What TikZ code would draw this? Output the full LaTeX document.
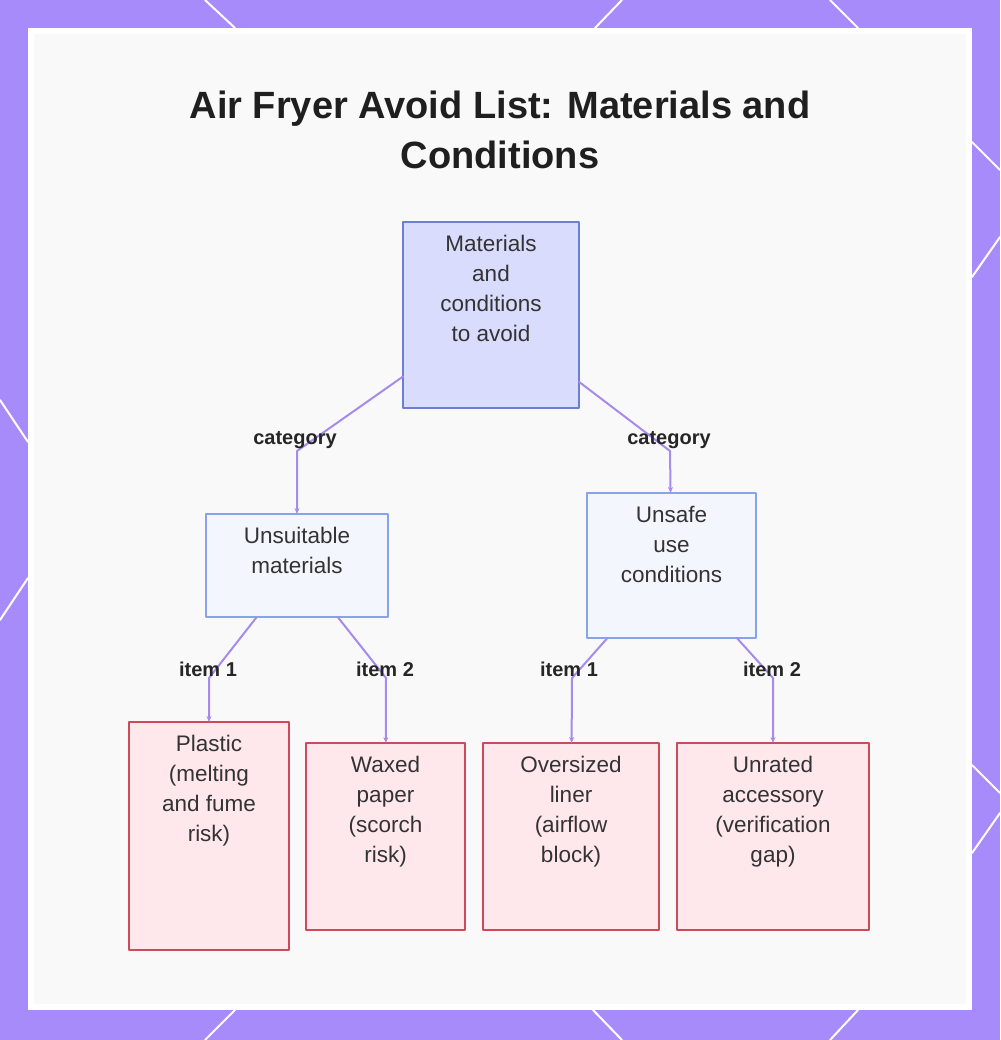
\documentclass[tikz,border=0pt]{standalone}
\usepackage{fontspec}
\setmainfont{Liberation Sans}
\usetikzlibrary{arrows.meta}
\definecolor{frame}{HTML}{A78BFA}
\definecolor{paper}{HTML}{FAF9F9}
\definecolor{ink}{HTML}{333333}
\definecolor{rootfill}{HTML}{D9DCFC}
\definecolor{rootline}{HTML}{6B7FD6}
\definecolor{midfill}{HTML}{F4F6FE}
\definecolor{midline}{HTML}{88A2EC}
\definecolor{leaffill}{HTML}{FFE8EB}
\definecolor{leafline}{HTML}{CC4A5A}
\definecolor{wire}{HTML}{A68BEC}
\newcommand{\cell}[3]{\parbox[c][#2][t]{#1}{\centering #3}}
\begin{document}
\begin{tikzpicture}[x=1pt,y=-1pt,>={Stealth[length=6pt,width=5pt]},line join=round,line cap=round,
	box/.style={draw,line width=2pt,anchor=north,inner xsep=0pt,inner ysep=13pt,outer sep=0pt,text=ink,font=\fontsize{22.5}{30}\selectfont},
	rootbox/.style={box,fill=rootfill,draw=rootline},
	groupbox/.style={box,fill=midfill,draw=midline},
	leafbox/.style={box,fill=leaffill,draw=leafline},
	edge/.style={draw=wire,line width=2pt,->},
	lbl/.style={text=black!85,font=\fontsize{20}{24}\selectfont\bfseries,inner sep=1pt}]
	\useasboundingbox (0,0) rectangle (1000,1040);
	% frame
	\fill[frame] (0,0) rectangle (1000,1040);
	\draw[white,line width=2pt]
	(205,0)--(235,28) (622,0)--(595,28) (830,0)--(858,28)
	(205,1040)--(235,1010) (622,1040)--(593,1010) (830,1040)--(858,1010)
	(0,400)--(28,442) (28,578)--(0,620)
	(972,142)--(1000,170) (1000,237)--(972,277) (972,765)--(1000,793) (1000,813)--(972,853)
	;
	\fill[white] (28,28) rectangle (972,1010);
	\fill[paper] (34,34) rectangle (966,1004);
	% title
	\node[font=\fontsize{38}{50}\selectfont\bfseries,text=black!88,align=center] (title) at (500,130) {Air Fryer Avoid List: Materials and\\Conditions};
	% boxes
	\node[rootbox] (root) at (491,222) {\cell{176pt}{160pt}{Materials\\and\\conditions\\to avoid}};
	\node[groupbox] (unsuit) at (297,514) {\cell{182pt}{77pt}{Unsuitable\\materials}};
	\node[groupbox] (unsafe) at (671.5,493) {\cell{169pt}{119pt}{Unsafe\\use\\conditions}};
	\node[leafbox] (plastic) at (209,722) {\cell{160pt}{202pt}{Plastic\\(melting\\and fume\\risk)}};
	\node[leafbox] (waxed) at (385.5,743) {\cell{159pt}{161pt}{Waxed\\paper\\(scorch\\risk)}};
	\node[leafbox] (liner) at (571,743) {\cell{176pt}{161pt}{Oversized\\liner\\(airflow\\block)}};
	\node[leafbox] (unrated) at (773,743) {\cell{192pt}{161pt}{Unrated\\accessory\\(verification\\gap)}};
	% bends
	\coordinate (k1) at (297,451);
	\coordinate (k2) at (670,451);
	\coordinate (k3) at (209,678);
	\coordinate (k4) at (386,678);
	\coordinate (k5) at (572,678);
	\coordinate (k6) at (773,678);
	\draw[edge] (root)--(k1)--(unsuit);
	\draw[edge] (root)--(k2)--(unsafe);
	\draw[edge] (unsuit)--(k3)--(plastic);
	\draw[edge] (unsuit)--(k4)--(waxed);
	\draw[edge] (unsafe)--(k5)--(liner);
	\draw[edge] (unsafe)--(k6)--(unrated);
	% labels
	\node[lbl] (c1) at (295,440) {category};
	\node[lbl] (c2) at (669,440) {category};
	\node[lbl] (i1) at (208,669) {item 1};
	\node[lbl] (i2) at (385,669) {item 2};
	\node[lbl] (i3) at (569,669) {item 1};
	\node[lbl] (i4) at (772,669) {item 2};
\end{tikzpicture}
\end{document}
